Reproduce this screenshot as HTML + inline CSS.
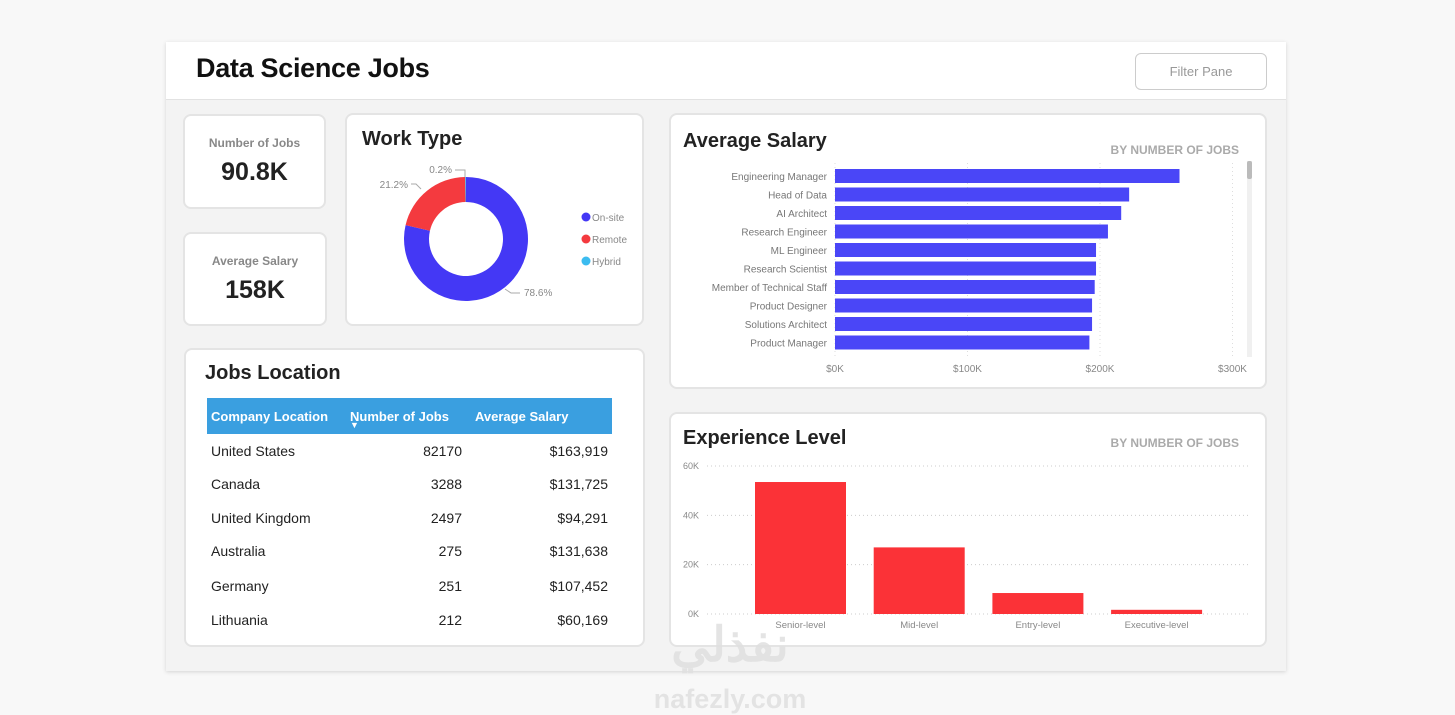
<!DOCTYPE html>
<html><head><meta charset="utf-8"><style>
body{margin:0;width:1455px;height:715px;background:#f8f8f8;font-family:"Liberation Sans",sans-serif;position:relative;overflow:hidden}
.abs{position:absolute}
.card{position:absolute;background:#fff;border:2px solid #e4e4e4;border-radius:8px;box-sizing:border-box}
.title{position:absolute;font-weight:bold;font-size:20px;color:#222}
.kl{position:absolute;width:100%;text-align:center;font-size:12px;color:#888;font-weight:bold}
.kv{position:absolute;width:100%;text-align:center;font-size:25px;color:#222;font-weight:bold}
td{font-size:14px;color:#222;padding:0 4px}
th{color:#fff;font-size:13px;text-align:left;padding:0 4px}
</style></head><body>
<div class="abs" style="left:166px;top:42px;width:1120px;height:629px;background:#f3f3f3;box-shadow:0 1px 4px rgba(0,0,0,.15)"></div>
<div class="abs" style="left:166px;top:42px;width:1120px;height:57px;background:#fff;border-bottom:1px solid #e2e2e2"></div>
<div class="abs" style="left:196px;top:53px;font-size:27px;font-weight:bold;color:#111;letter-spacing:-0.3px">Data Science Jobs</div>
<div class="abs" style="left:1135px;top:53px;width:132px;height:37px;border:1px solid #ccc;border-radius:6px;background:#fff;box-sizing:border-box;text-align:center;line-height:35px;font-size:13px;color:#999">Filter Pane</div>

<div class="card" style="left:183px;top:114px;width:143px;height:95px">
<div class="kl" style="top:20px">Number of Jobs</div>
<div class="kv" style="top:42px">90.8K</div></div>
<div class="card" style="left:183px;top:232px;width:144px;height:94px">
<div class="kl" style="top:20px">Average Salary</div>
<div class="kv" style="top:42px">158K</div></div>

<div class="card" style="left:345px;top:113px;width:299px;height:213px">
<div class="title" style="left:15px;top:13px">Work Type</div></div>
<svg class="abs" id="donut" style="left:345px;top:113px" width="299" height="213"></svg>

<div class="card" style="left:184px;top:348px;width:461px;height:299px">
<div class="title" style="left:19px;top:12px">Jobs Location</div>
<table style="position:absolute;left:21px;top:48px;width:405px;border-collapse:collapse;table-layout:fixed">
<colgroup><col style="width:141px"><col style="width:123px"><col></colgroup>
<tr style="background:#3a9fe0;height:36px"><th>Company Location</th><th style="position:relative;padding-left:2px">Number of Jobs<span style="position:absolute;left:2px;top:22px;font-size:9px">▼</span></th><th>Average Salary</th></tr>
<tr style="height:33px"><td>United States</td><td style="text-align:right;padding-right:9px">82170</td><td style="text-align:right">$163,919</td></tr>
<tr style="height:34px"><td>Canada</td><td style="text-align:right;padding-right:9px">3288</td><td style="text-align:right">$131,725</td></tr>
<tr style="height:33px"><td>United Kingdom</td><td style="text-align:right;padding-right:9px">2497</td><td style="text-align:right">$94,291</td></tr>
<tr style="height:34px"><td>Australia</td><td style="text-align:right;padding-right:9px">275</td><td style="text-align:right">$131,638</td></tr>
<tr style="height:35px"><td>Germany</td><td style="text-align:right;padding-right:9px">251</td><td style="text-align:right">$107,452</td></tr>
<tr style="height:34px"><td>Lithuania</td><td style="text-align:right;padding-right:9px">212</td><td style="text-align:right">$60,169</td></tr>
</table></div>

<div class="card" style="left:669px;top:113px;width:598px;height:276px"></div>
<svg class="abs" id="bar" style="left:669px;top:113px" width="598" height="276"></svg>
<div class="card" style="left:669px;top:412px;width:598px;height:235px"></div>
<svg class="abs" id="col" style="left:669px;top:412px" width="598" height="235"></svg>

<div class="abs" style="left:600px;top:618px;width:260px;text-align:center;color:#e0e0e0;font-size:48px;font-weight:bold;line-height:56px;opacity:.85">نفذلي</div>
<div class="abs" style="left:600px;top:684px;width:260px;text-align:center;color:#e0e0e0;font-size:27px;font-weight:bold;line-height:30px;opacity:.85">nafezly.com</div>

<script>
const NS='http://www.w3.org/2000/svg';
function mk(p,t,a,txt){const e=document.createElementNS(NS,t);for(const k in a)e.setAttribute(k,a[k]);if(txt!==undefined)e.textContent=txt;p.appendChild(e);return e;}
const F='Liberation Sans, sans-serif';

// Donut
const wtLabels=['On-site','Remote','Hybrid'];
const wtValues=[78.6,21.2,0.2];
const wtColors=['#4438f5','#f43a3f','#3cbcf0'];
const d=document.getElementById('donut');
const cx=121,cy=126,R=62,r=37;
let tot=wtValues.reduce((a,b)=>a+b,0),ang=0;
wtValues.forEach((v,i)=>{
 const a0=ang/tot*2*Math.PI,a1=(ang+v)/tot*2*Math.PI;ang+=v;
 const P=(rad,a)=>[cx+rad*Math.sin(a),cy-rad*Math.cos(a)];
 const lg=(a1-a0)>Math.PI?1:0;
 const [x0,y0]=P(R,a0),[x1,y1]=P(R,a1),[x2,y2]=P(r,a1),[x3,y3]=P(r,a0);
 const s=mk(d,'path',{d:`M${x0},${y0}A${R},${R} 0 ${lg} 1 ${x1},${y1}L${x2},${y2}A${r},${r} 0 ${lg} 0 ${x3},${y3}Z`,fill:wtColors[i]});
 
 
 const lx=[179,63,107][i],ly=[183,75,60][i];
 const t=mk(d,'text',{x:lx,y:ly,'font-size':10,fill:'#888','font-family':F,'text-anchor':i==0?'start':'end'},v.toFixed(1)+'%');
 
 
 const g=mk(d,'g',{});
 mk(g,'circle',{cx:241,cy:104+i*22,r:4.5,fill:wtColors[i]});
 mk(g,'text',{x:247,y:108+i*22,'font-size':10,fill:'#888','font-family':F},wtLabels[i]);
});
mk(d,'path',{d:'M160,176 L166,180 L175,180 M66,71 L71,71 L76,76 M110,57 L120,57 L120,64',stroke:'#aaa',fill:'none'});

// Average salary bar chart
const jobTitles=['Engineering Manager','Head of Data','AI Architect','Research Engineer','ML Engineer','Research Scientist','Member of Technical Staff','Product Designer','Solutions Architect','Product Manager'];
const avgSalaries=[260,222,216,206,197,197,196,194,194,192];
const salTicks=[0,100,200,300];
const b=document.getElementById('bar');
mk(b,'text',{x:14,y:34,'font-size':20,'font-weight':'bold',fill:'#222','font-family':F},'Average Salary');
mk(b,'text',{x:570,y:41,'font-size':12,'font-weight':'bold',fill:'#aaa','font-family':F,'text-anchor':'end'},'BY NUMBER OF JOBS');
const bx=v=>166+v*1.325, by=i=>56+i*18.5;
salTicks.forEach(t=>{mk(b,'line',{x1:bx(t),x2:bx(t),y1:50,y2:245,stroke:'#ddd','stroke-dasharray':'1,3'});
 const e=mk(b,'text',{x:bx(t),y:259,'font-size':10,fill:'#888','font-family':F,'text-anchor':'middle'},'$'+t+'K');});
jobTitles.forEach((n,i)=>{
 const e=mk(b,'rect',{x:bx(0),y:by(i),width:bx(avgSalaries[i])-bx(0),height:14,fill:'#4a46f7'});
 
 
 mk(b,'text',{x:158,y:by(i)+11,'font-size':10,fill:'#777','font-family':F,'text-anchor':'end'},n);
});
mk(b,'rect',{x:578,y:48,width:5,height:196,fill:'#f0f0f0'});
mk(b,'rect',{x:578,y:48,width:5,height:18,rx:2,fill:'#bbb',});

// Experience level column chart
const levels=['Senior-level','Mid-level','Entry-level','Executive-level'];
const levelJobs=[53.5,27,8.5,1.7];
const yTicks=[0,20,40,60];
const c=document.getElementById('col');
mk(c,'text',{x:14,y:32,'font-size':20,'font-weight':'bold',fill:'#222','font-family':F},'Experience Level');
mk(c,'text',{x:570,y:35,'font-size':12,'font-weight':'bold',fill:'#aaa','font-family':F,'text-anchor':'end'},'BY NUMBER OF JOBS');
const cy0=202, yy=v=>cy0-v*2.467;
yTicks.forEach(t=>{mk(c,'line',{x1:38,x2:582,y1:yy(t),y2:yy(t),stroke:'#ccc','stroke-dasharray':'1,3'});
 const e=mk(c,'text',{x:30,y:yy(t)+3,'font-size':9,fill:'#888','font-family':F,'text-anchor':'end'},t+'K');});
levels.forEach((n,i)=>{
 const x=86+i*118.7;
 const e=mk(c,'rect',{x:x,y:yy(levelJobs[i]),width:91,height:cy0-yy(levelJobs[i]),fill:'#fb3237'});
 
 
 mk(c,'text',{x:x+45.5,y:216,'font-size':9.5,fill:'#888','font-family':F,'text-anchor':'middle'},n);
});
</script>
</body></html>
